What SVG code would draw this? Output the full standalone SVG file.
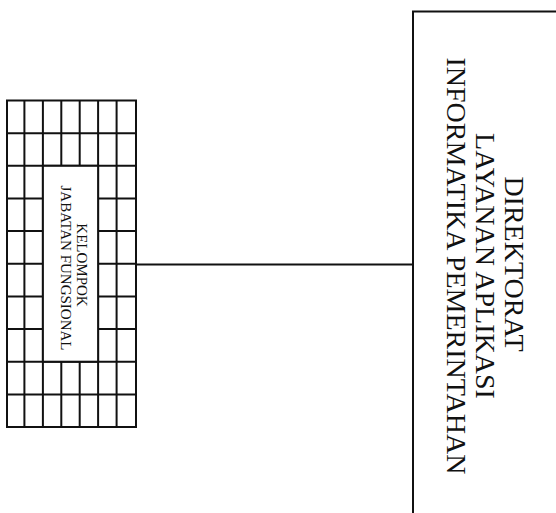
<svg xmlns="http://www.w3.org/2000/svg" width="556" height="513" viewBox="0 0 556 513">
<style>
.ln{stroke:#111;stroke-width:2;fill:none}
.bx{stroke:#111;stroke-width:2;fill:#fff}
.t{font-family:"Liberation Serif","Times New Roman",serif;fill:#111;text-anchor:middle}
.big{font-size:28px}
.sm{font-size:15px}
</style>
<rect width="556" height="513" fill="#fff"/>
<g id="connectors">
<line class="ln" x1="136" y1="264.5" x2="413" y2="264.5"/>
</g>
<g id="kelompok">
<rect class="bx" x="7" y="100.5" width="129" height="326.5"/>
<g class="ln">
<line x1="24.4" y1="100.5" x2="24.4" y2="427"/>
<line x1="42.9" y1="100.5" x2="42.9" y2="427"/>
<line x1="61.3" y1="100.5" x2="61.3" y2="427"/>
<line x1="79.7" y1="100.5" x2="79.7" y2="427"/>
<line x1="98.1" y1="100.5" x2="98.1" y2="427"/>
<line x1="116.6" y1="100.5" x2="116.6" y2="427"/>
<line x1="7" y1="133.2" x2="136" y2="133.2"/>
<line x1="7" y1="165.8" x2="136" y2="165.8"/>
<line x1="7" y1="198.5" x2="136" y2="198.5"/>
<line x1="7" y1="231.1" x2="136" y2="231.1"/>
<line x1="7" y1="263.8" x2="136" y2="263.8"/>
<line x1="7" y1="296.4" x2="136" y2="296.4"/>
<line x1="7" y1="329.1" x2="136" y2="329.1"/>
<line x1="7" y1="361.7" x2="136" y2="361.7"/>
<line x1="7" y1="394.4" x2="136" y2="394.4"/>
</g>
<rect class="bx" x="42.9" y="165.8" width="55.2" height="195.9"/>
<text class="t sm" transform="translate(77,265) rotate(90)">KELOMPOK</text>
<text class="t sm" transform="translate(61,268) rotate(90)">JABATAN FUNGSIONAL</text>
</g>
<g id="direktorat">
<rect class="bx" x="413" y="11.5" width="200" height="600"/>
<text class="t big" transform="translate(505,264) rotate(90)">DIREKTORAT</text>
<text class="t big" transform="translate(476,266) rotate(90)">LAYANAN APLIKASI</text>
<text class="t big" transform="translate(447,266) rotate(90)">INFORMATIKA PEMERINTAHAN</text>
</g>
</svg>
